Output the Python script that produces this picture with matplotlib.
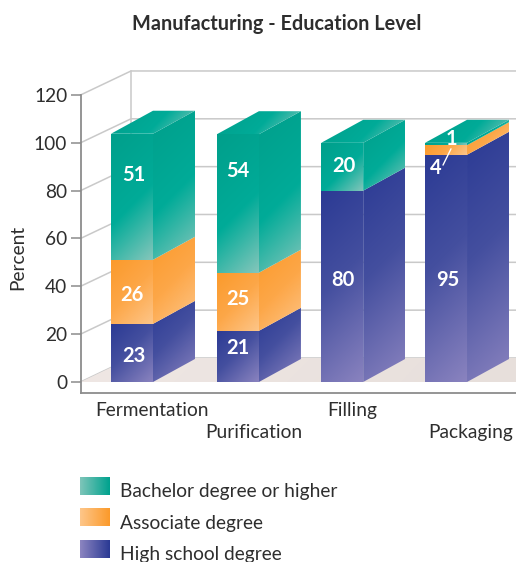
import numpy as np
import matplotlib
matplotlib.use("Agg")
import matplotlib.pyplot as plt
from matplotlib.colors import LinearSegmentedColormap
from matplotlib.legend_handler import HandlerBase
from matplotlib.patches import Patch, Polygon, Rectangle

categories = ["Fermentation", "Purification", "Filling", "Packaging"]
series_names = ["Bachelor degree or higher", "Associate degree", "High school degree"]
# printed values
bachelor = [51, 54, 20, 1]
associate = [26, 25, 0, 4]
high_school = [23, 21, 80, 95]
# segment heights as drawn against the y scale
bachelor_drawn = [52.7, 57.9, 20, 1]
associate_drawn = [26.8, 24.3, 0, 4]
high_school_drawn = [24.3, 21.4, 80, 95]
y_ticks = [0, 20, 40, 60, 80, 100, 120]

W, H, DPI = 516, 562, 100
plt.rcParams["font.family"] = ["Lato", "DejaVu Sans"]
TXT = "#2e2e2e"
FS = 13.8

fig = plt.figure(figsize=(W / DPI, H / DPI), dpi=DPI, facecolor="white")
L, R, T, B = 80.5, 516, 95, 393
ax = fig.add_axes([L / W, 1 - B / H, (R - L) / W, (B - T) / H])

PX_X = 104.67
PX_Y = 2.39
ax.set_xlim((L - 111) / PX_X, (R - 111) / PX_X)
ax.set_ylim(-(B - 382) / PX_Y, 120)
ax.set_autoscale_on(False)

BAR_W = 42 / PX_X
DX, DY = 42 / PX_X, 23 / PX_Y
WALL_X, WALL_Y = 50.5 / PX_X, 24 / PX_Y
x0, x1 = ax.get_xlim()

teal = LinearSegmentedColormap.from_list("t", [(0, "#009f8b"), (0.55, "#00ab98"), (1, "#85c6bb")])
orange = LinearSegmentedColormap.from_list("o", [(0, "#fb9a2b"), (0.5, "#fda748"), (1, "#fdc588")])
blue = LinearSegmentedColormap.from_list("b", [(0, "#2b3a94"), (0.45, "#444f9f"), (1, "#8a83bf")])
floor_cm = LinearSegmentedColormap.from_list("f", ["#efe7e4", "#e7dfdb"])


def grad_poly(verts, cmap, zorder):
    v = np.array(verts, dtype=float)
    xa, xb, ya, yb = v[:, 0].min(), v[:, 0].max(), v[:, 1].min(), v[:, 1].max()
    n = 96
    X, Y = np.meshgrid(np.linspace(0, (xb - xa) * PX_X, n), np.linspace((yb - ya) * PX_Y, 0, n))
    t = (X + Y) / max((xb - xa) * PX_X + (yb - ya) * PX_Y, 1e-6)
    im = ax.imshow(t, cmap=cmap, vmin=0, vmax=1, extent=(xa, xb, ya, yb), origin="lower",
                   aspect="auto", interpolation="bilinear", zorder=zorder, clip_on=True)
    poly = Polygon(v, closed=True, transform=ax.transData, fc="none", ec="none")
    ax.add_patch(poly)
    im.set_clip_path(poly)


# wall and grid
GRID = "#c9c9c9"
for y in y_ticks:
    ax.plot([x0, x0 + WALL_X, x1], [y, y + WALL_Y, y + WALL_Y], color=GRID, lw=1.1,
            clip_on=False, zorder=1, solid_joinstyle="miter")
ax.plot([x0 + WALL_X] * 2, [WALL_Y, 120 + WALL_Y], color=GRID, lw=1.1, clip_on=False, zorder=1)

# floor
grad_poly([(x0, 0), (x0 + WALL_X, WALL_Y), (x1, WALL_Y), (x1, 0)], floor_cm, 2)

# bars
nudge = [0, 0.012, 0.008, 0]
stacks = [(high_school, high_school_drawn, blue),
          (associate, associate_drawn, orange),
          (bachelor, bachelor_drawn, teal)]
# label nudges in pixels, one row per stack, one column per category
nudges = {
    0: [(2, -3), (0, 8), (1, 6.5), (2, -11.5)],
    1: [(0, -3), (0, 3), None, (-10, -18)],
    2: [(2, 22), (0, 32), (2, 1), (5, 5)],
}
for i in range(len(categories)):
    x = i + nudge[i]
    base = 0.0
    for s, (vals, heights, cmap) in enumerate(stacks):
        h = heights[i]
        if h <= 0:
            continue
        top = base + h
        z = 3 + i
        grad_poly([(x, base), (x + BAR_W, base), (x + BAR_W, top), (x, top)], cmap, z)
        grad_poly([(x + BAR_W, base), (x + BAR_W + DX, base + DY), (x + BAR_W + DX, top + DY),
                   (x + BAR_W, top)], cmap, z)
        if s == 2:
            grad_poly([(x, top), (x + BAR_W, top), (x + BAR_W + DX, top + DY), (x + DX, top + DY)],
                      cmap, z)
        off = nudges[s][i]
        ax.annotate(str(vals[i]), xy=(x + BAR_W / 2, (base + top) / 2), xytext=off,
                    textcoords="offset pixels", ha="center", va="center", color="white",
                    fontsize=14.5, fontweight="bold", zorder=20, annotation_clip=False)
        base = top

# leader line for the "1" label of Packaging
top_hs = high_school_drawn[3]
ax.annotate("", xy=(3 + BAR_W / 2 + 5 / PX_X, top_hs + 2.5), xytext=(3 + BAR_W / 2 - 3 / PX_X, top_hs - 4.3),
            arrowprops=dict(arrowstyle="-", color="white", lw=1.0, shrinkA=0, shrinkB=0), zorder=20)

# axes furniture
AXC = "#8c8c8c"
for side in ("top", "right"):
    ax.spines[side].set_visible(False)
for side in ("left", "bottom"):
    ax.spines[side].set_color(AXC)
    ax.spines[side].set_linewidth(1.3)
    ax.spines[side].set_zorder(30)
ax.set_yticks(y_ticks)
ax.tick_params(axis="y", length=7, width=1.1, color=AXC, labelsize=FS, labelcolor=TXT, pad=2.5)
ax.set_xticks([])
ax.patch.set_alpha(0)
ax.set_ylabel("Percent", fontsize=FS, color=TXT, va="center")
ax.yaxis.set_label_coords((18 - L) / (R - L), (B - 257) / (B - T))

# staggered category labels
centers = [152, 254, 352, 471]
rows = [410, 432, 410, 432]
for name, c, r, i in zip(categories, centers, rows, range(4)):
    px = (c - 111) / PX_X
    ax.text(px, (382 - r) / PX_Y, name, ha="center", va="center", fontsize=FS, color=TXT, clip_on=False)

fig.text(277 / W, 1 - 24 / H, "Manufacturing - Education Level", ha="center", va="center",
         fontsize=14.3, fontweight="bold", color=TXT)


class GradHandler(HandlerBase):
    def __init__(self, cmap):
        super().__init__()
        self.cmap = cmap

    def create_artists(self, legend, orig, xd, yd, width, height, fontsize, trans):
        n = 30
        out = []
        for k in range(n):
            col = self.cmap(1 - k / (n - 1))
            # swatches sit slightly above the middle of their text
            out.append(Rectangle((xd * -1 + width * k / n, -yd + 3.6), width / n * 1.05, height,
                                 fc=col, ec="none", transform=trans))
        return out


handles = [Patch(label=n) for n in series_names]
legend_cmaps = [
    LinearSegmentedColormap.from_list("lt", ["#00a28e", "#7cc4b8"]),
    LinearSegmentedColormap.from_list("lo", ["#fb9a2b", "#fdc588"]),
    LinearSegmentedColormap.from_list("lb", ["#2b3a94", "#8a83bf"]),
]
leg = fig.legend(handles=handles, labels=series_names, loc="upper left",
                 bbox_to_anchor=(80 / W, 1 - 482 / H), frameon=False, borderpad=0, borderaxespad=0,
                 fontsize=FS, handlelength=1.57, handleheight=1.05, handletextpad=0.52, labelspacing=0.68,
                 labelcolor=TXT,
                 handler_map={h: GradHandler(c) for h, c in zip(handles, legend_cmaps)})

fig.savefig("out.png", dpi=DPI, facecolor="white")
